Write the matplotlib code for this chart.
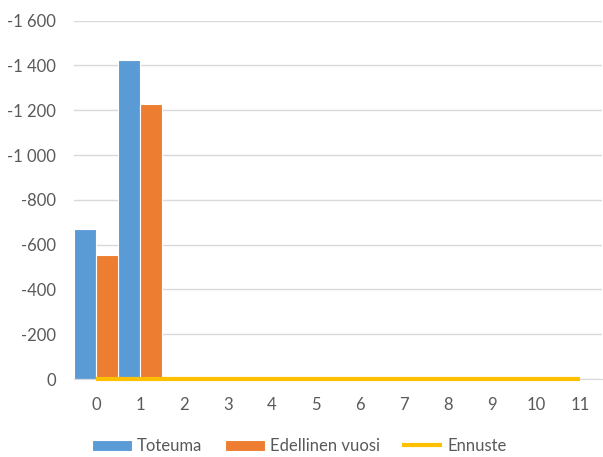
import matplotlib
matplotlib.use("Agg")
import matplotlib.pyplot as plt
import numpy as np

categories = list(range(12))
toteuma = [-670, -1423]
edellinen = [-555, -1230]
ennuste = [0] * 12
yticks = list(range(0, -1601, -200))

plt.rcParams['font.family'] = ['Lato', 'DejaVu Sans']
txt = '#595959'
grid = '#D9D9D9'

fig = plt.figure(figsize=(6.03, 4.57), dpi=100)
ax = fig.add_axes([74/603, 1-379/457, (602-74)/603, (379-20.7)/457])

x_t = np.arange(len(toteuma))
x_e = np.arange(len(edellinen))
b1 = ax.bar(x_t - 0.25, toteuma, width=0.5, color='#5B9BD5', edgecolor='white', linewidth=0.8, label='Toteuma', zorder=2)
b2 = ax.bar(x_e + 0.25, edellinen, width=0.5, color='#ED7D31', edgecolor='white', linewidth=0.8, label='Edellinen vuosi', zorder=2)
l1, = ax.plot(categories, ennuste, color='#FFC000', linewidth=3, label='Ennuste', zorder=3, clip_on=False, solid_capstyle='butt')

ax.set_xlim(-0.5, 11.5)
ax.set_ylim(0, -1600)
ax.set_yticks(yticks)
ax.set_yticklabels([f"{v:,}".replace(",", " ") for v in yticks])
ax.set_xticks(categories)
ax.set_xticklabels([str(c) for c in categories])
ax.grid(axis='y', color=grid, linewidth=1, zorder=0)
ax.set_axisbelow(True)
for s in ['top', 'right', 'left']:
    ax.spines[s].set_visible(False)
ax.spines['bottom'].set_color(grid)
ax.tick_params(axis='both', length=0, labelsize=12, colors=txt)
ax.tick_params(axis='x', pad=13)
ax.tick_params(axis='y', pad=13)

fig.legend(handles=[b1, b2, l1], loc='center', bbox_to_anchor=(0.496, 1-446/457), ncol=3, frameon=False,
           fontsize=12, labelcolor=txt, handlelength=2.4, handleheight=0.65, handletextpad=0.3, columnspacing=1.35)

fig.savefig('out.png', dpi=100)
